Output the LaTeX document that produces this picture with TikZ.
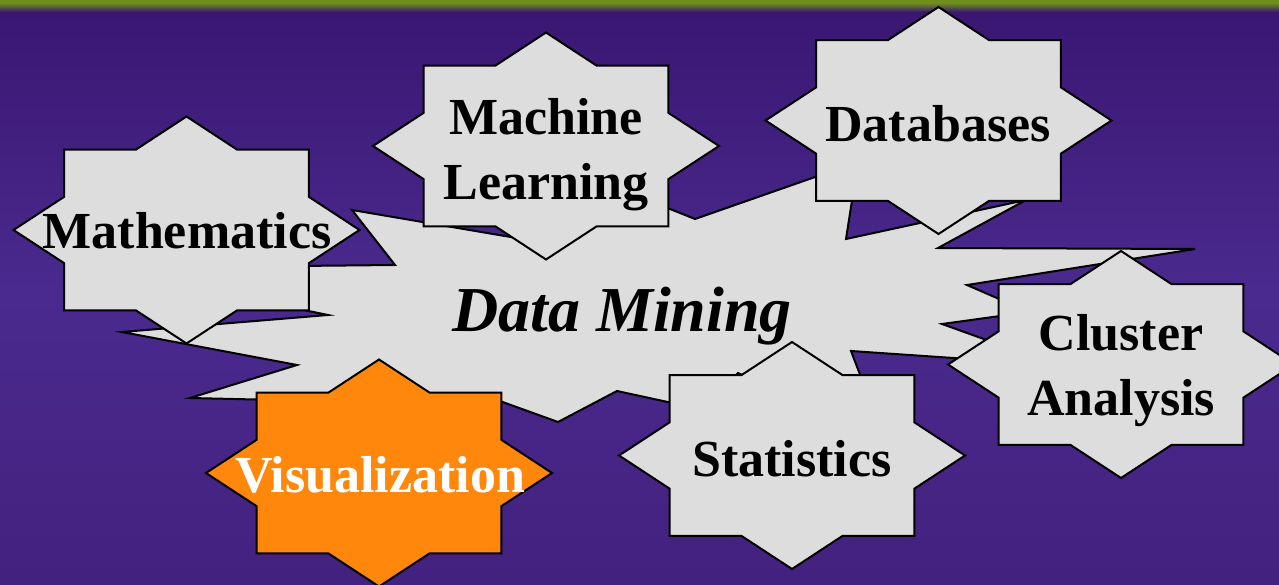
\documentclass[tikz,border=0pt]{standalone}
\usepackage{fontspec}
\setmainfont{Liberation Serif}
\definecolor{bgtop}{HTML}{3A1672}
\definecolor{bgmid}{HTML}{4A2A8E}
\definecolor{bgbot}{HTML}{43217F}
\definecolor{stripgreen}{HTML}{6E8F1C}
\definecolor{boxgray}{HTML}{DDDDDD}
\definecolor{vizorange}{HTML}{FF880C}
\tikzset{
  starfill/.style={draw=black, line width=2pt, fill=boxgray, line join=miter},
  vizfill/.style={starfill, fill=vizorange},
  blast/.style={draw=black, line width=2pt, fill=boxgray, line join=miter},
  lbl/.style={font=\fontsize{52}{65}\selectfont\bfseries, align=center, inner sep=0pt},
  dmlbl/.style={font=\fontsize{64}{70}\selectfont\bfseries\itshape, inner sep=0pt},
}
\newcommand\octstar[2]{%
  \draw[#2, shift={#1}] (0,-113.5) -- (50.7,-80.3) -- (122.3,-80.3) -- (122.3,-33.2)
    -- (173,0) -- (122.3,33.2) -- (122.3,80.3) -- (50.7,80.3) -- (0,113.5)
    -- (-50.7,80.3) -- (-122.3,80.3) -- (-122.3,33.2) -- (-173,0)
    -- (-122.3,-33.2) -- (-122.3,-80.3) -- (-50.7,-80.3) -- cycle;}
\begin{document}
\begin{tikzpicture}[x=1pt, y=-1pt]
% background
\useasboundingbox (0,0) rectangle (1279,585);
\shade[top color=bgtop, bottom color=bgbot, middle color=bgmid] (0,0) rectangle (1279,585);
\shade[top color=stripgreen, bottom color=bgtop] (0,3) rectangle (1279,12);
\fill[stripgreen] (0,0) rectangle (1279,4);
% explosion
\draw[blast] (352,210) -- (540,242) -- (610,185) -- (695,219) -- (858,162)
  -- (846,239) -- (1026,200) -- (938,248) -- (1195,249) -- (967,285)
  -- (1029,312) -- (942,324) -- (1056,365) -- (851,351) -- (885,440)
  -- (738,373) -- (700,409) -- (617,391) -- (558,422) -- (497,400)
  -- (380,500) -- (300,400.5) -- (190,398) -- (297,365) -- (122,332)
  -- (328,315) -- (100,268) -- (395,265) -- cycle;
\node[dmlbl] (dm) at (622,316.5) {Data Mining};
% stars
\octstar{(186.5,230)}{starfill}
\octstar{(546,146)}{starfill}
\octstar{(938.5,120.5)}{starfill}
\octstar{(1121,364.5)}{starfill}
\octstar{(792,455.5)}{starfill}
\octstar{(379,473)}{vizfill}
\node[lbl] (math) at (187,231) {Mathematics};
\node[lbl] (ml) at (546,155) {Machine\\Learning};
\node[lbl] (db) at (938,123.5) {Databases};
\node[lbl] (cl) at (1121,371) {Cluster\\Analysis};
\node[lbl] (st) at (792,458.5) {Statistics};
\node[lbl, text=white] (vis) at (380,475) {Visualization};
\end{tikzpicture}
\end{document}
